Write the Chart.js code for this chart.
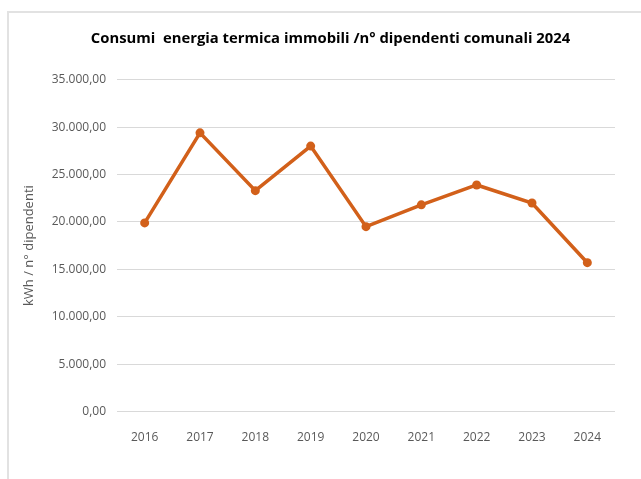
<!DOCTYPE html>
<html>
<head>
<meta charset="utf-8">
<script src="https://cdn.jsdelivr.net/npm/chart.js@4.4.1/dist/chart.umd.min.js"></script>
<style>
  html, body { margin: 0; padding: 0; background: #ffffff; }
  #wrap { position: relative; width: 641px; height: 479px; }
  #frame { position: absolute; left: 7px; top: 11px; right: 0; bottom: 0;
           border-left: 2px solid #e2e2e2; border-top: 2px solid #e2e2e2; }
  #chart { position: absolute; left: 0; top: 0; }
</style>
</head>
<body>
<div id="wrap">
  <div id="frame"></div>
  <canvas id="chart" width="641" height="479"></canvas>
</div>
<script>
/* --------------- Data --------------------- */
const years = ["2016", "2017", "2018", "2019", "2020", "2021", "2022", "2023", "2024"];
const kwhPerEmployee = [19900, 29400, 23300, 28000, 19500, 21800, 23900, 22000, 15700];
const yTicks = [0, 5000, 10000, 15000, 20000, 25000, 30000, 35000];

/* --------------- Italian number format: 35.000,00 --------------------- */
const formatIt = (v) => {
  const parts = Number(v).toFixed(2).split(".");
  parts[0] = parts[0].replace(/\B(?=(\d{3})+(?!\d))/g, ".");
  return parts.join(",");
};

const lineColor = "#D2601A";
const gridColor = "#d9d9d9";
const tickColor = "#595959";
const fontFamily = "'Open Sans', sans-serif";

/* --------------- Center the title over the framed area, not the canvas --------------------- */
const titleShift = {
  id: "titleShift",
  afterLayout: (chart) => {
    chart.titleBlock.left = 46;
    chart.titleBlock.right = 615;
  },
};

/* --------------- Chart --------------------- */
const chart = new Chart(document.getElementById("chart"), {
  type: "line",
  plugins: [titleShift],
  data: {
    labels: years,
    datasets: [
      {
        data: kwhPerEmployee,
        borderColor: lineColor,
        backgroundColor: lineColor,
        borderWidth: 3.5,
        pointRadius: 4.5,
        pointBorderWidth: 0,
        tension: 0,
      },
    ],
  },
  options: {
    responsive: false,
    animation: false,
    layout: { padding: { left: 0, right: 26, top: 0, bottom: 0 } },
    plugins: {
      legend: { display: false },
      tooltip: { enabled: false },
      title: {
        display: true,
        text: "Consumi  energia termica immobili /n° dipendenti comunali 2024",
        color: "#000000",
        font: { family: fontFamily, size: 14.8, weight: "bold" },
        padding: { top: 30, bottom: 32 },
      },
    },
    scales: {
      x: {
        offset: true,
        grid: { display: false },
        border: { display: false },
        ticks: {
          color: tickColor,
          font: { family: fontFamily, size: 12 },
          padding: 11,
          maxRotation: 0,
        },
        afterFit: (scale) => { scale.height = 67.5; },
      },
      y: {
        min: 0,
        max: 35000,
        afterBuildTicks: (scale) => { scale.ticks = yTicks.map((v) => ({ value: v })); },
        grid: { color: gridColor, lineWidth: 1, drawTicks: false },
        border: { display: false },
        ticks: {
          color: tickColor,
          font: { family: fontFamily, size: 12 },
          padding: 11,
          callback: (v) => formatIt(v),
        },
        title: {
          display: true,
          text: "kWh / n° dipendenti",
          color: tickColor,
          font: { family: fontFamily, size: 13 },
          padding: { top: 21, bottom: 0 },
        },
        afterFit: (scale) => { scale.width = 117; },
      },
    },
  },
});
</script>
</body>
</html>
